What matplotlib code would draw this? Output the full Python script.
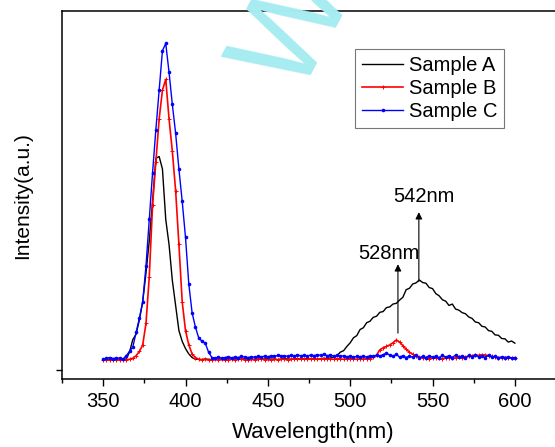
import numpy as np
import matplotlib
matplotlib.use("Agg")
import matplotlib.pyplot as plt
from matplotlib.ticker import MultipleLocator

plt.rcParams["font.family"] = ["Liberation Sans", "DejaVu Sans"]

# wavelength grid, 2 nm steps
wavelength = np.arange(350, 601, 2)

sample_a = [
    0.030, 0.031, 0.029, 0.030, 0.031, 0.030, 0.029, 0.031,
    0.050, 0.085, 0.100, 0.140, 0.190, 0.270, 0.360, 0.470, 0.590, 0.595,
    0.560, 0.420, 0.350, 0.250, 0.180, 0.110, 0.080, 0.060, 0.045, 0.035, 0.030,
    0.030, 0.029, 0.031, 0.030, 0.028, 0.030, 0.031, 0.029, 0.030, 0.032,
    0.030, 0.029, 0.031, 0.030, 0.032, 0.031, 0.030, 0.029, 0.031, 0.030,
    0.031, 0.032, 0.030, 0.031, 0.029, 0.030, 0.032, 0.031, 0.030, 0.031,
    0.032, 0.030, 0.031, 0.033, 0.031, 0.032, 0.030, 0.031, 0.033, 0.032,
    0.034, 0.036,
    0.040, 0.050, 0.054, 0.066, 0.076, 0.090, 0.096, 0.113, 0.118, 0.132,
    0.136, 0.147, 0.150, 0.161, 0.163, 0.174, 0.176, 0.184, 0.186, 0.195,
    0.203, 0.224, 0.228, 0.240, 0.243, 0.251, 0.244, 0.242, 0.230, 0.227,
    0.213, 0.207, 0.196, 0.192, 0.180, 0.184, 0.170, 0.167, 0.160, 0.157,
    0.148, 0.144, 0.134, 0.132, 0.122, 0.120, 0.110, 0.108, 0.098, 0.097,
    0.088, 0.087, 0.078, 0.081, 0.075,
]

sample_b = [
    0.028, 0.029, 0.028, 0.029, 0.028, 0.029, 0.028, 0.029,
    0.030, 0.033, 0.040, 0.052, 0.070, 0.130, 0.260, 0.460, 0.580, 0.700,
    0.780, 0.810, 0.700, 0.610, 0.500, 0.350, 0.190, 0.110, 0.070, 0.045, 0.035,
    0.030, 0.029, 0.030, 0.028, 0.029, 0.030, 0.029, 0.030, 0.028, 0.029,
    0.030, 0.029, 0.031, 0.030, 0.029, 0.028, 0.030, 0.029, 0.030, 0.031,
    0.029, 0.030, 0.028, 0.030, 0.029, 0.031, 0.030, 0.029, 0.030, 0.031,
    0.030, 0.032, 0.031, 0.030, 0.032, 0.031, 0.030, 0.031, 0.032, 0.030,
    0.031, 0.030, 0.032, 0.031, 0.030, 0.031, 0.032, 0.031, 0.030, 0.031,
    0.030, 0.032,
    0.032, 0.036, 0.042, 0.056, 0.062, 0.066, 0.070, 0.076, 0.084, 0.078,
    0.068, 0.058, 0.050, 0.044, 0.040, 0.036,
    0.034, 0.033, 0.032, 0.033, 0.034, 0.033, 0.032, 0.034, 0.035, 0.033,
    0.034, 0.036, 0.035, 0.037, 0.038, 0.040, 0.042, 0.041, 0.043, 0.042,
    0.040, 0.038, 0.036, 0.035, 0.034, 0.035, 0.034, 0.033, 0.034,
]

sample_c = [
    0.030, 0.033, 0.035, 0.032, 0.034, 0.033,
    0.030, 0.040, 0.052, 0.064, 0.105, 0.145, 0.190, 0.290, 0.420, 0.550,
    0.670, 0.780, 0.890, 0.910, 0.830, 0.740, 0.660, 0.560, 0.470, 0.370,
    0.240, 0.160, 0.120, 0.090, 0.080, 0.075, 0.050, 0.035,
    0.034, 0.036, 0.033, 0.035, 0.037, 0.034, 0.036, 0.035, 0.038, 0.036,
    0.035, 0.037, 0.036, 0.038, 0.036, 0.039, 0.037, 0.040, 0.038, 0.041,
    0.039, 0.040, 0.038, 0.041, 0.039, 0.042, 0.040, 0.041, 0.039, 0.042,
    0.040, 0.043, 0.041, 0.044, 0.040, 0.042, 0.039, 0.041, 0.038, 0.040,
    0.037, 0.039, 0.036, 0.038, 0.037, 0.039, 0.036, 0.040, 0.038, 0.041,
    0.039, 0.043, 0.047, 0.042, 0.038, 0.044, 0.036, 0.040, 0.035, 0.039,
    0.036, 0.041, 0.034, 0.038, 0.035, 0.040, 0.036, 0.039, 0.034, 0.041,
    0.036, 0.040, 0.035, 0.042, 0.037, 0.039, 0.034, 0.041, 0.036, 0.043,
    0.037, 0.040, 0.035, 0.042, 0.036, 0.039, 0.034, 0.037, 0.035, 0.036,
    0.034, 0.035,
]

labels = ["Sample A", "Sample B", "Sample C"]

# peak annotations: (label, wavelength, arrow base, arrow tip, text x, text y)
peaks = [
    ("542nm", 541.7, 0.247, 0.440, 544.5, 0.485),
    ("528nm", 529.0, 0.103, 0.295, 523.5, 0.326),
]


def main():
    fig = plt.figure(figsize=(5.55, 4.47), dpi=100)
    ax = fig.add_axes([0.1117, 0.152, 0.905, 0.823])

    ax.plot(wavelength, sample_a, color="black", lw=1.0, label=labels[0])
    ax.plot(wavelength, sample_b, color="red", lw=1.2, marker="+",
            markersize=3, markeredgewidth=0.7, label=labels[1])
    ax.plot(wavelength, sample_c, color="blue", lw=1.0, marker="o",
            markersize=2.6, markeredgewidth=0, label=labels[2])

    for txt, x, y0, y1, tx, ty in peaks:
        ax.annotate("", xy=(x, y1), xytext=(x, y0),
                    arrowprops=dict(arrowstyle="-|>", color="black", lw=0.8,
                                    mutation_scale=10, shrinkA=0, shrinkB=0))
        ax.text(tx, ty, txt, ha="center", va="center", fontsize=14.5)

    ax.set_xlim(325, 630)
    ax.set_ylim(-0.025, 1.0)
    ax.xaxis.set_major_locator(MultipleLocator(50))
    ax.xaxis.set_minor_locator(MultipleLocator(25))
    ax.set_yticks([0])
    ax.set_yticklabels([])
    ax.tick_params(axis="x", which="major", direction="out", length=5,
                   width=1, labelsize=14.5, pad=4)
    ax.tick_params(axis="x", which="minor", direction="out", length=3, width=1)
    ax.tick_params(axis="y", direction="out", length=4, width=1)
    for sp in ax.spines.values():
        sp.set_linewidth(1.1)

    ax.set_xlabel("Wavelength(nm)", fontsize=16, labelpad=8)
    ax.set_ylabel("Intensity(a.u.)", fontsize=15, labelpad=14)

    leg = ax.legend(loc="upper left", bbox_to_anchor=(0.584, 0.897),
                    fontsize=14.5, handlelength=2.0, handletextpad=0.3,
                    labelspacing=0.2, borderpad=0.35, borderaxespad=0,
                    fancybox=False, framealpha=1)
    leg.get_frame().set_edgecolor("#777777")
    leg.get_frame().set_linewidth(0.8)

    # watermark
    fig.text(0.537, 0.935, "W", fontsize=92, color="#a6ecf0", rotation=62,
             ha="center", va="center", zorder=0)

    fig.savefig("out.png", dpi=100)


if __name__ == "__main__":
    main()
